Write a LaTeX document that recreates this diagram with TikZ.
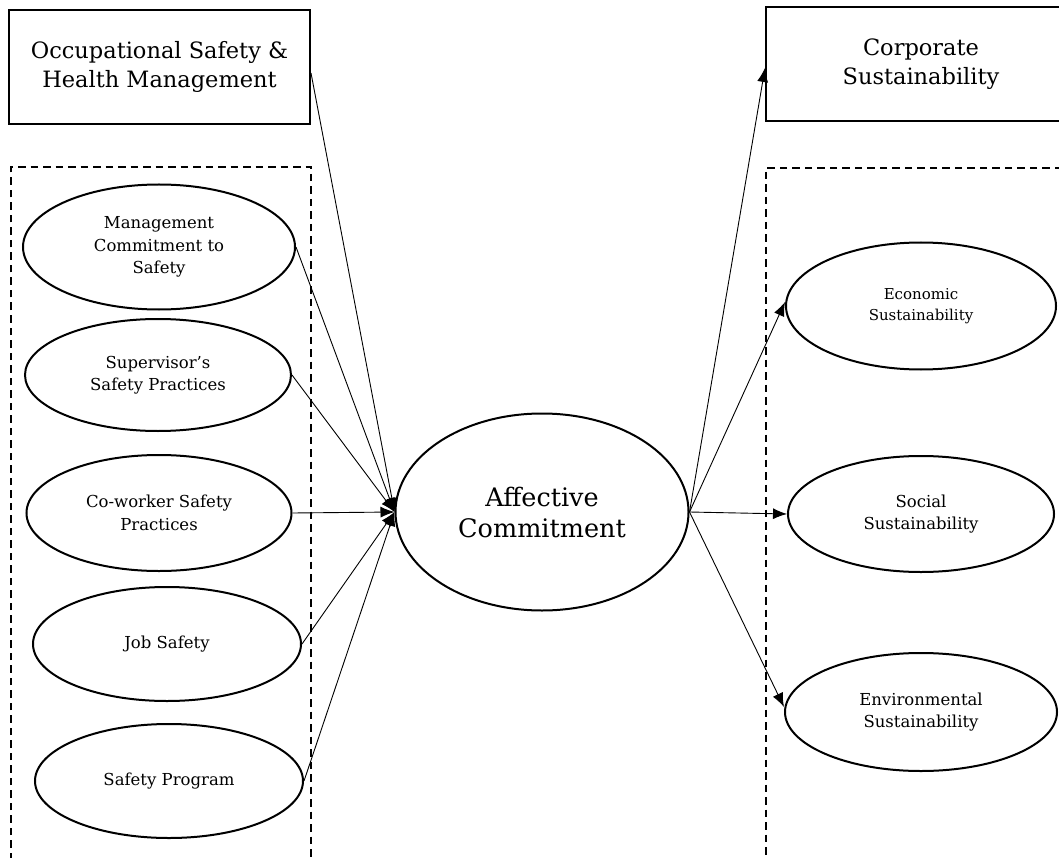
\documentclass[tikz,border=0pt]{standalone}
\usepackage{fontspec}
\setmainfont{DejaVu Serif}
\usetikzlibrary{arrows.meta,shapes.geometric}
\begin{document}
\begin{tikzpicture}[x=1pt,y=-1pt,
  titlebox/.style={draw,line width=2pt,inner sep=0pt,align=center,font=\fontsize{22.5}{29}\selectfont},
  oval/.style={draw,ellipse,line width=2pt,inner sep=0pt,align=center,font=\fontsize{16.5}{22.5}\selectfont},
  group/.style={draw,line width=2pt,dash pattern=on 7.5pt off 5pt},
  link/.style={line width=0.9pt,-{Latex[length=14pt,width=11pt]}}
]
\useasboundingbox (0,0) rectangle (1059,858);
% title boxes
\node[titlebox,minimum width=301pt,minimum height=114pt] (oshm) at (159.5,67) {Occupational Safety \&\\Health Management};
\node[titlebox,minimum width=310pt,minimum height=114pt] (cs) at (921,64) {Corporate\\Sustainability};
% dashed groups
\draw[group] (11,860) -- (11,167) -- (311,167) -- (311,860);
\draw[group] (1062,168) -- (766,168) -- (766,860);
% left ovals
\node[oval,minimum width=272pt,minimum height=125pt] (mcs) at (159,247) {Management\\Commitment to\\Safety};
\node[oval,minimum width=266pt,minimum height=112pt] (ssp) at (158,375) {Supervisor’s\\Safety Practices};
\node[oval,minimum width=265pt,minimum height=116pt] (csp) at (159,513) {Co-worker Safety\\Practices};
\node[oval,minimum width=268pt,minimum height=114pt] (js) at (167,644) {Job Safety};
\node[oval,minimum width=268pt,minimum height=114pt] (sp) at (169,781) {Safety Program};
% centre
\node[oval,minimum width=293pt,minimum height=197pt,font=\fontsize{25.5}{31}\selectfont] (ac) at (542,512) {Affective\\Commitment};
% right ovals
\node[oval,minimum width=270pt,minimum height=127pt,font=\fontsize{15}{21}\selectfont] (es) at (921,306) {Economic\\Sustainability};
\node[oval,minimum width=266pt,minimum height=116pt] (ss) at (921,514) {Social\\Sustainability};
\node[oval,minimum width=272pt,minimum height=118pt] (ens) at (921,712) {Environmental\\Sustainability};
% connectors
\coordinate (acw) at (ac.west);
\coordinate (ace) at (ac.east);
\draw[link] ([yshift=-6pt]oshm.east) -- (acw);
\draw[link] (mcs.east) -- (acw);
\draw[link] (ssp.east) -- (acw);
\draw[link] (csp.east) -- (acw);
\draw[link] (js.east) -- (acw);
\draw[link] (sp.east) -- (acw);
\draw[link] (ace) -- ([yshift=-4pt]cs.west);
\draw[link] (ace) -- ([yshift=4pt]es.west);
\draw[link] (ace) -- (ss.west);
\draw[link] (ace) -- ([yshift=5pt]ens.west);
\end{tikzpicture}
\end{document}
